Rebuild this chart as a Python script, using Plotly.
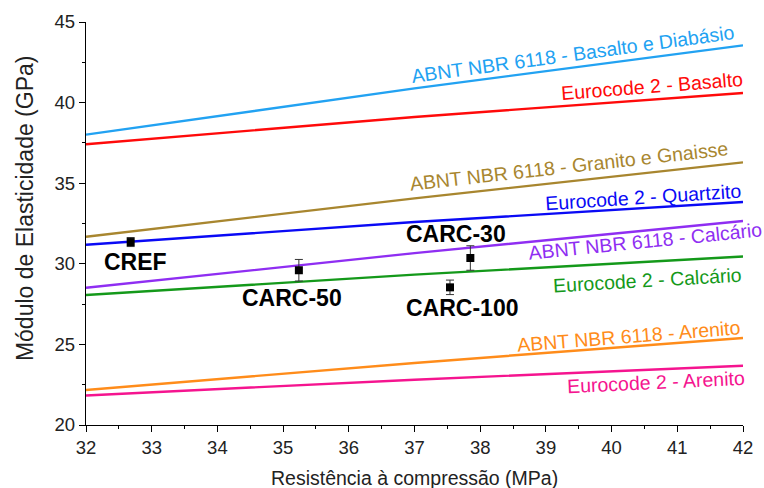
import plotly.graph_objects as go

# Compressive strength grid (MPa) for the code-model curves
fc_grid = [32, 37, 42]

# Elastic modulus estimates (GPa) from each design code
abnt_basalto = [38.01, 40.88, 43.55]
ec2_basalto = [37.42, 39.11, 40.60]
abnt_granito = [31.68, 34.06, 36.29]
ec2_quartzito = [31.18, 32.59, 33.83]
abnt_calcario = [28.51, 30.66, 32.66]
ec2_calcario = [28.06, 29.33, 30.45]
abnt_arenito = [22.17, 23.85, 25.40]
ec2_arenito = [21.83, 22.81, 23.68]

# Experimental results
mix_names = ["CREF", "CARC-50", "CARC-30", "CARC-100"]
mix_fc = [32.68, 35.24, 37.85, 37.54]
mix_E = [31.35, 29.6, 30.36, 28.54]
mix_err = [0.28, 0.67, 0.76, 0.45]

FONT = "Liberation Sans, Arial, sans-serif"

curves = [
    ("ABNT NBR 6118 - Basalto e Diabásio", abnt_basalto, "#22A2F2", 39.41, 43.02, -7.8),
    ("Eurocode 2 - Basalto", ec2_basalto, "#FF0A0A", 40.61, 41.03, -4.5),
    ("ABNT NBR 6118 - Granito e Gnaisse", abnt_granito, "#A8862F", 39.35, 36.05, -6.4),
    ("Eurocode 2 - Quartzito", ec2_quartzito, "#0A0AF5", 40.48, 34.17, -3.7),
    ("ABNT NBR 6118 - Calcário", abnt_calcario, "#8F2EF2", 40.52, 31.41, -5.8),
    ("Eurocode 2 - Calcário", ec2_calcario, "#14991A", 40.55, 29.0, -3.3),
    ("ABNT NBR 6118 - Arenito", abnt_arenito, "#FF8C1A", 40.27, 25.5, -4.5),
    ("Eurocode 2 - Arenito", ec2_arenito, "#F5148F", 40.68, 22.67, -2.7),
]

fig = go.Figure()
annotations = []
for name, vals, color, lx, ly, ang in curves:
    fig.add_trace(go.Scatter(
        x=fc_grid, y=vals, mode="lines", name=name,
        line=dict(color=color, width=2.4, shape="spline"),
        showlegend=False,
    ))
    annotations.append(dict(
        x=lx, y=ly, xref="x", yref="y", text=name, showarrow=False,
        textangle=ang, font=dict(family=FONT, size=19.5, color=color),
    ))

fig.add_trace(go.Scatter(
    x=mix_fc, y=mix_E, mode="markers", showlegend=False,
    marker=dict(symbol="square", size=8, color="black"),
    error_y=dict(type="data", array=mix_err, visible=True,
                 color="#333333", thickness=1, width=4),
))

label_pos = {"CREF": (32.75, 30.11), "CARC-50": (35.14, 27.88),
             "CARC-30": (37.63, 31.85), "CARC-100": (37.72, 27.26)}
for n in mix_names:
    px, py = label_pos[n]
    annotations.append(dict(
        x=px, y=py, xref="x", yref="y", text=f"<b>{n}</b>", showarrow=False,
        font=dict(family=FONT, size=23, color="black"),
    ))

# Axis titles
annotations.append(dict(
    x=-0.093, y=0.538, xref="paper", yref="paper", showarrow=False,
    text="Módulo de Elasticidade (GPa)", textangle=-90,
    xanchor="center", yanchor="middle",
    font=dict(family=FONT, size=23, color="#222222"),
))
annotations.append(dict(
    x=0.5, y=-0.1315, xref="paper", yref="paper", showarrow=False,
    text="Resistência à compressão (MPa)",
    xanchor="center", yanchor="middle",
    font=dict(family=FONT, size=19.5, color="#222222"),
))

axis_common = dict(
    showline=True, linecolor="black", linewidth=1.3, mirror=False,
    ticks="outside", ticklen=6, tickwidth=1.3, tickcolor="black",
    showgrid=False, zeroline=False,
    tickfont=dict(family=FONT, size=18.5, color="#222222"),
)

fig.update_layout(
    width=764, height=488,
    margin=dict(l=86, r=21, t=22, b=63),
    paper_bgcolor="white", plot_bgcolor="white",
    annotations=annotations,
    xaxis=dict(
        range=[32, 42], dtick=1, tick0=32,
        minor=dict(ticks="outside", ticklen=3, tickcolor="black", dtick=0.5, showgrid=False),
        **axis_common,
    ),
    yaxis=dict(
        range=[20, 45], dtick=5, tick0=20,
        minor=dict(ticks="outside", ticklen=3, tickcolor="black", dtick=2.5, showgrid=False),
        **axis_common,
    ),
)

fig.write_html("out.html")
